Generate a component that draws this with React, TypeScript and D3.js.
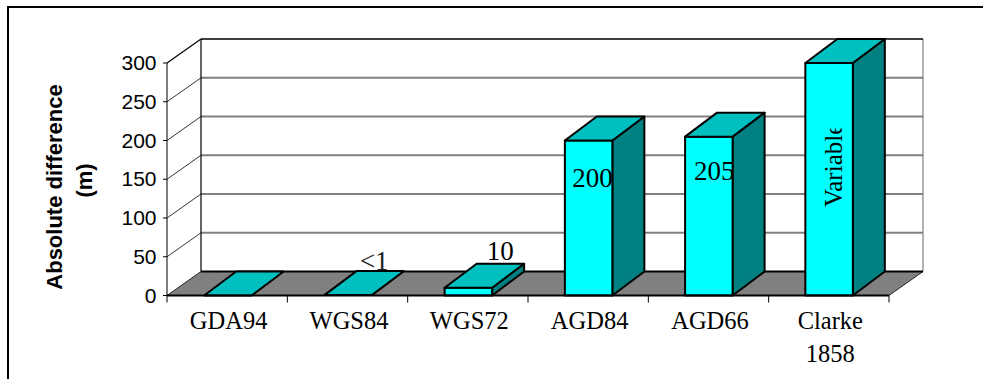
import React from "react";
import * as d3 from "d3";

// Absolute difference of each datum from GDA94, metres.
const categories = ["GDA94", "WGS84", "WGS72", "AGD84", "AGD66", "Clarke 1858"];
const values = [0, 0.5, 10, 200, 205, 300];
const valueLabels = ["", "<1", "10", "200", "205", "Variable"];
const yTicks = [0, 50, 100, 150, 200, 250, 300];

const SANS = "'Liberation Sans', Arial, sans-serif";
const SERIF = "'Liberation Serif', 'Times New Roman', serif";

const CYAN = "#00ffff";
const TOP = "#00bfbf";
const SIDE = "#008080";
const FLOOR = "#808080";

// Oblique projection: wall depth and bar depth in screen pixels.
const WALL_DX = 34;
const WALL_DY = -24;
const BAR_DX = 32;
const BAR_DY = -24;

const y = d3.scaleLinear().domain([0, 300]).range([295.5, 63]);
const x = d3
  .scaleBand<string>()
  .domain(categories)
  .range([167, 889])
  .paddingInner(0.605)
  .paddingOuter(0.305);

const poly = (pts: [number, number][]) => pts.map((p) => p.join(",")).join(" ");

// Where each value label sits, relative to the left edge of its bar;
// clipTop/clipRight trim text that runs past the label box.
const labelPos: Record<
  string,
  { dx: number; y: number; size?: number; rotate?: boolean; clipTop?: number; clipRight?: number; fill?: string }
> = {
  "<1": { dx: 35.5, y: 269.5, clipTop: 250, fill: "#222" },
  "10": { dx: 42, y: 260 },
  "200": { dx: 7.5, y: 187, clipRight: 0 },
  "205": { dx: 9, y: 180, clipRight: 0 },
  Variable: { dx: 37, y: 207, size: 25, rotate: true, clipTop: 128.5 },
};

function Bar({ name, value, label }: { name: string; value: number; label: string }) {
  const x0 = x(name)! + 0.5;
  const x1 = x0 + x.bandwidth();
  const y0 = y(0);
  const yt = y(value);
  const pos = labelPos[label];
  const clipId = `label-${categories.indexOf(name)}`;
  return (
    <g stroke="#000" strokeWidth={2} strokeLinejoin="round">
      {value > 1 && (
        <polygon
          points={poly([
            [x1, y0],
            [x1 + BAR_DX, y0 + BAR_DY],
            [x1 + BAR_DX, yt + BAR_DY],
            [x1, yt],
          ])}
          fill={SIDE}
        />
      )}
      {value > 1 && (
        <rect x={x0} y={yt} width={x1 - x0} height={y0 - yt} fill={CYAN} />
      )}
      <polygon
        points={poly([
          [x0, yt],
          [x1, yt],
          [x1 + BAR_DX, yt + BAR_DY],
          [x0 + BAR_DX, yt + BAR_DY],
        ])}
        fill={TOP}
      />
      {pos && (
        <>
          <clipPath id={clipId}>
            <rect
              x={x0 - 20}
              y={pos.clipTop ?? 0}
              width={pos.clipRight !== undefined ? x1 - x0 + 20 + pos.clipRight : 200}
              height={379}
            />
          </clipPath>
          <g clipPath={`url(#${clipId})`}>
            <text
              x={x0 + pos.dx}
              y={pos.y}
              transform={pos.rotate ? `rotate(-90 ${x0 + pos.dx} ${pos.y})` : undefined}
              fontFamily={SERIF}
              fontSize={pos.size ?? 27}
              fill={pos.fill ?? "#000"}
              stroke="none"
            >
              {label}
            </text>
          </g>
        </>
      )}
    </g>
  );
}

export default function App() {
  const xLeft = 167;
  const xRight = 889;
  const step = (xRight - xLeft) / categories.length;
  return (
    <svg
      width={983}
      height={379}
      style={{ position: "absolute", left: 0, top: 0, background: "#fff" }}
    >
      {/* outer frame, open on the right and at the bottom */}
      <path d="M8,379 V7 H983" fill="none" stroke="#000" strokeWidth={2} />

      {/* back wall and gridlines */}
      {yTicks.slice(1, -1).map((t) => (
        <line
          key={t}
          x1={xLeft + WALL_DX}
          x2={xRight + WALL_DX}
          y1={y(t) + WALL_DY}
          y2={y(t) + WALL_DY}
          stroke={FLOOR}
          strokeWidth={2}
        />
      ))}
      <line x1={xRight + WALL_DX} x2={xRight + WALL_DX} y1={y(300) + WALL_DY} y2={y(0) + WALL_DY} stroke={FLOOR} strokeWidth={1.2} />
      <line x1={xLeft + WALL_DX} x2={xRight + WALL_DX} y1={y(300) + WALL_DY} y2={y(300) + WALL_DY} stroke="#000" strokeWidth={1.4} />
      <line x1={xLeft + WALL_DX} x2={xLeft + WALL_DX} y1={y(300) + WALL_DY} y2={y(0) + WALL_DY} stroke="#000" strokeWidth={1.2} />

      {/* left side wall: receding gridlines */}
      {yTicks.slice(1).map((t) => (
        <line
          key={t}
          x1={xLeft}
          x2={xLeft + WALL_DX}
          y1={y(t)}
          y2={y(t) + WALL_DY}
          stroke="#000"
          strokeWidth={t === 300 ? 1.2 : 0.8}
        />
      ))}
      <line x1={xLeft} x2={xLeft} y1={y(300)} y2={y(0)} stroke="#000" strokeWidth={1} />

      {/* floor */}
      <polygon
        points={poly([
          [xLeft, y(0)],
          [xLeft + WALL_DX, y(0) + WALL_DY],
          [xRight + WALL_DX, y(0) + WALL_DY],
          [xRight, y(0)],
        ])}
        fill={FLOOR}
        stroke="none"
      />
      <line x1={xLeft + WALL_DX} x2={xRight + WALL_DX} y1={y(0) + WALL_DY} y2={y(0) + WALL_DY} stroke="#000" strokeWidth={1.8} />
      <line x1={xRight} x2={xRight + WALL_DX} y1={y(0)} y2={y(0) + WALL_DY} stroke="#000" strokeWidth={0.8} />
      <line x1={xLeft} x2={xLeft + WALL_DX} y1={y(0)} y2={y(0) + WALL_DY} stroke="#000" strokeWidth={0.8} />

      {categories.map((c, i) => (
        <Bar key={c} name={c} value={values[i]} label={valueLabels[i]} />
      ))}

      {/* front edge of the floor and category ticks */}
      <line x1={xLeft} x2={xRight} y1={y(0)} y2={y(0)} stroke="#000" strokeWidth={2} />
      {d3.range(categories.length + 1).map((i) => (
        <line
          key={i}
          x1={xLeft + i * step}
          x2={xLeft + i * step}
          y1={y(0)}
          y2={y(0) + 7}
          stroke="#000"
          strokeWidth={1}
        />
      ))}

      {/* value axis */}
      {yTicks.map((t) => (
        <g key={t}>
          <line x1={xLeft - 4} x2={xLeft} y1={y(t)} y2={y(t)} stroke="#000" strokeWidth={1} />
          <text
            x={xLeft - 10.5}
            y={y(t) + 7}
            textAnchor="end"
            fontFamily={SANS}
            fontSize={21}
            fill="#000"
          >
            {t}
          </text>
        </g>
      ))}

      {/* category labels */}
      {categories.map((c, i) => {
        const lines = c.split(" ");
        const cx = xLeft + (i + 0.5) * step + 1.5;
        return (
          <text key={c} textAnchor="middle" fontFamily={SERIF} fontSize={24.5} fill="#000">
            {lines.map((l, j) => (
              <tspan key={l} x={cx} y={329 + j * 32.5}>
                {l}
              </tspan>
            ))}
          </text>
        );
      })}

      {/* axis title */}
      <text
        transform="translate(61.5,187) rotate(-90)"
        textAnchor="middle"
        fontFamily={SANS}
        fontWeight="bold"
        fontSize={22}
        fill="#000"
      >
        Absolute difference
      </text>
      <text
        transform="translate(92,180.5) rotate(-90)"
        textAnchor="middle"
        fontFamily={SANS}
        fontWeight="bold"
        fontSize={22}
        fill="#000"
      >
        (m)
      </text>
    </svg>
  );
}
